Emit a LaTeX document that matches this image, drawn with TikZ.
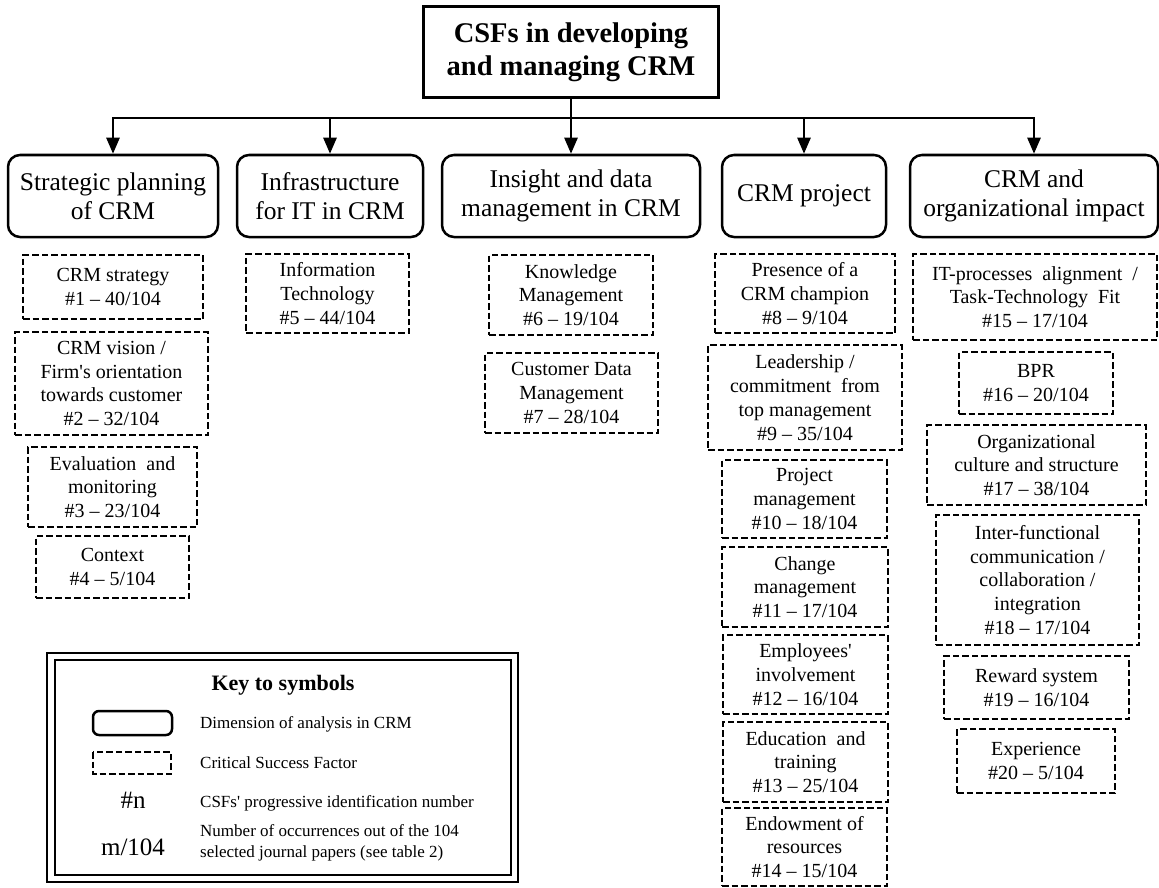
\documentclass[tikz,border=0pt]{standalone}
\usepackage{fontspec}
\setmainfont{Liberation Serif}
\usetikzlibrary{arrows.meta}
\begin{document}
\begin{tikzpicture}[x=1pt,y=-1pt,
  titlebox/.style={draw, line width=3pt, inner sep=0pt, align=center, font=\bfseries\fontsize{28.5}{33}\selectfont},
  dimbox/.style={draw, line width=2.5pt, rounded corners=12pt, inner sep=0pt, align=center, font=\fontsize{25.5}{29}\selectfont, minimum height=82pt},
  csf/.style={draw, line width=2.5pt, dash pattern=on 6.5pt off 3pt, inner sep=0pt, align=center, font=\fontsize{20}{23.8}\selectfont},
  arr/.style={line width=2.5pt, -{Triangle[length=16pt,width=13pt]}},
  keytext/.style={inner sep=0pt, align=left, font=\fontsize{17}{21}\selectfont},
  keysym/.style={inner sep=0pt, font=\fontsize{25}{29}\selectfont},
]
\useasboundingbox (0,0) rectangle (1159,888);

% title
\node[titlebox, minimum width=295pt, minimum height=91pt] (title) at (571,52.5) {CSFs in developing\\and managing CRM};

% dimensions
\node[dimbox, minimum width=210pt] (d1) at (113,196) {Strategic planning\\of CRM};
\node[dimbox, minimum width=186pt] (d2) at (330,196) {Infrastructure\\for IT in CRM};
\node[dimbox, minimum width=258pt] (d3) at (571,196) {Insight and data\\management in CRM};
\node[dimbox, minimum width=164pt] (d4) at (804,196) {CRM project};
\node[dimbox, minimum width=248pt] (d5) at (1034,196) {CRM and\\organizational impact};

% connectors
\coordinate (bus) at (571,118);
\draw[arr] (title.south) -- (d3.north);
\draw[arr] (title.south) -- (bus) -| (d1.north);
\draw[arr] (title.south) -- (bus) -| (d2.north);
\draw[arr] (title.south) -- (bus) -| (d4.north);
\draw[arr] (title.south) -- (bus) -| (d5.north);

% CSFs column 1
\node[csf, minimum width=180pt, minimum height=64pt] (c1) at (113,287) {CRM strategy\\\#1 – 40/104};
\node[csf, minimum width=193pt, minimum height=103pt] (c2) at (111.5,383.5) {CRM vision /\\Firm\textquotesingle s orientation\\towards customer\\\#2 – 32/104};
\node[csf, minimum width=169pt, minimum height=80pt] (c3) at (112.5,487) {Evaluation\ \ and\\monitoring\\\#3 – 23/104};
\node[csf, minimum width=153pt, minimum height=62pt] (c4) at (112.5,567) {Context\\\#4 – 5/104};

% column 2
\node[csf, minimum width=163pt, minimum height=79pt] (c5) at (327.5,293.5) {Information\\Technology\\\#5 – 44/104};

% column 3
\node[csf, minimum width=164pt, minimum height=80pt] (c6) at (571,295) {Knowledge\\Management\\\#6 – 19/104};
\node[csf, minimum width=173pt, minimum height=80pt] (c7) at (571.5,393) {Customer Data\\Management\\\#7 – 28/104};

% column 4
\node[csf, minimum width=180pt, minimum height=79pt] (c8) at (805,293.5) {Presence of a\\CRM champion\\\#8 – 9/104};
\node[csf, minimum width=194pt, minimum height=105pt] (c9) at (805,397.5) {Leadership /\\commitment\ \ from\\top management\\\#9 – 35/104};
\node[csf, minimum width=165pt, minimum height=78pt] (c10) at (804.5,499) {Project\\management\\\#10 – 18/104};
\node[csf, minimum width=166pt, minimum height=80pt] (c11) at (805,587) {Change\\management\\\#11 – 17/104};
\node[csf, minimum width=165pt, minimum height=79pt] (c12) at (805.5,674.5) {Employees\textquotesingle\\involvement\\\#12 – 16/104};
\node[csf, minimum width=165pt, minimum height=80pt] (c13) at (805.5,762) {Education\ \ and\\training\\\#13 – 25/104};
\node[csf, minimum width=165pt, minimum height=78pt] (c14) at (804.5,847) {Endowment of\\resources\\\#14 – 15/104};

% column 5
\node[csf, minimum width=244pt, minimum height=86pt] (c15) at (1035,297) {IT-processes\ \ alignment\ \ /\\Task-Technology\ \ Fit\\\#15 – 17/104};
\node[csf, minimum width=154pt, minimum height=62pt] (c16) at (1036,383) {BPR\\\#16 – 20/104};
\node[csf, minimum width=219pt, minimum height=80pt] (c17) at (1036.5,465) {Organizational\\culture and structure\\\#17 – 38/104};
\node[csf, minimum width=203pt, minimum height=130pt] (c18) at (1037.5,580) {Inter-functional\\communication /\\collaboration /\\integration\\\#18 – 17/104};
\node[csf, minimum width=185pt, minimum height=63pt] (c19) at (1036.5,687.5) {Reward system\\\#19 – 16/104};
\node[csf, minimum width=158pt, minimum height=64pt] (c20) at (1036,761) {Experience\\\#20 – 5/104};

% legend
\draw[line width=1.6pt] (47,653) rectangle (518,882);
\draw[line width=2.8pt] (55,660) rectangle (511,875);
\node[inner sep=0pt, anchor=base, font=\bfseries\fontsize{22}{26}\selectfont] (keyt) at (283,690) {Key to symbols};
\draw[line width=2.5pt, rounded corners=6pt] (93,711) rectangle (172,735);
\draw[line width=2.5pt, dash pattern=on 6.5pt off 3pt] (93,752) rectangle (171,774);
\node[keysym, anchor=base] (kn) at (133,808) {\#n};
\node[keysym, anchor=base] (km) at (133,855) {m/104};
\node[keytext, anchor=base west] (k1) at (200,728) {Dimension of analysis in CRM};
\node[keytext, anchor=base west] (k2) at (200,768) {Critical Success Factor};
\node[keytext, anchor=base west] (k3) at (200,807) {CSFs\textquotesingle\ progressive identification number};
\node[keytext, anchor=west] (k4) at (200,843) {Number of occurrences out of the 104\\selected journal papers (see table 2)};
\end{tikzpicture}
\end{document}
